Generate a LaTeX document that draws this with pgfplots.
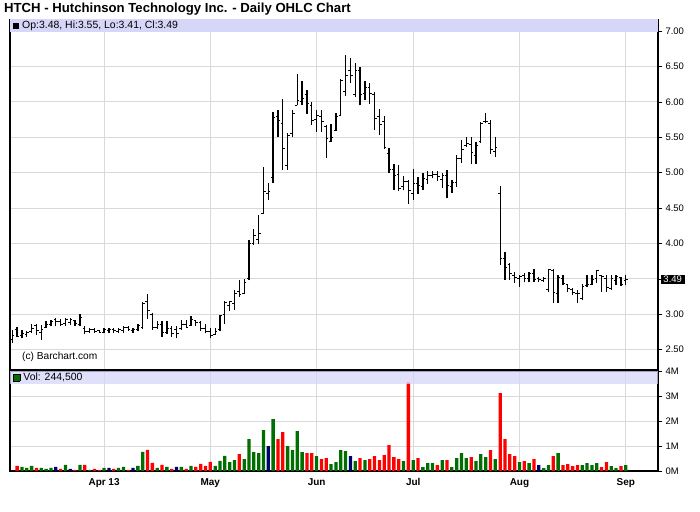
\documentclass[border=0pt]{standalone}
\usepackage{pgfplots}
\pgfplotsset{compat=1.18}
\usepackage{pgfplotstable}
\usepackage{fontspec}
\setmainfont{Liberation Sans}

\definecolor{vgreen}{RGB}{0,110,0}
\definecolor{vred}{RGB}{255,0,0}
\definecolor{vnavy}{RGB}{0,0,110}
\definecolor{band}{RGB}{214,214,248}
\definecolor{gridc}{RGB}{217,217,217}

% daily bars: index, open, high, low, close, volume (M), direction (0 up, 1 down, 2 flat)
\pgfplotstableread{
i O H L C V d
0 2.65 2.78 2.59 2.70 0 1
1 2.78 2.82 2.68 2.69 0.21 1
2 2.70 2.78 2.66 2.73 0.17 0
3 2.72 2.76 2.68 2.75 0.13 0
4 2.76 2.87 2.73 2.80 0.21 0
5 2.84 2.87 2.71 2.77 0.13 1
6 2.75 2.85 2.64 2.79 0.13 0
7 2.82 2.90 2.80 2.86 0.09 0
8 2.86 2.92 2.83 2.90 0.13 0
9 2.93 2.95 2.83 2.90 0.17 2
10 2.90 2.93 2.83 2.86 0.09 1
11 2.87 2.95 2.84 2.92 0.25 0
12 2.88 2.95 2.85 2.92 0.09 2
13 2.91 2.92 2.84 2.87 0.05 1
14 2.86 3.00 2.83 2.95 0.25 0
15 2.80 2.83 2.72 2.76 0.25 1
16 2.76 2.81 2.74 2.78 0.05 0
17 2.79 2.81 2.73 2.76 0.09 1
18 2.77 2.78 2.74 2.75 0.05 1
19 2.75 2.81 2.73 2.78 0.13 0
20 2.77 2.80 2.74 2.78 0.13 2
21 2.79 2.80 2.74 2.77 0.09 1
22 2.76 2.81 2.74 2.79 0.13 0
23 2.77 2.83 2.74 2.81 0.17 0
24 2.81 2.84 2.76 2.78 0.05 1
25 2.77 2.80 2.74 2.78 0.13 2
26 2.78 2.87 2.77 2.84 0.21 0
27 2.82 3.18 2.79 3.15 0.77 0
28 3.18 3.28 2.94 3.05 0.85 1
29 3.00 3.02 2.78 2.82 0.33 1
30 2.82 2.90 2.79 2.86 0.13 0
31 2.85 2.90 2.68 2.75 0.25 1
32 2.74 2.90 2.72 2.80 0.17 0
33 2.80 2.83 2.68 2.73 0.09 1
34 2.78 2.83 2.66 2.73 0.17 2
35 2.80 2.92 2.78 2.85 0.17 0
36 2.86 2.92 2.80 2.82 0.09 1
37 2.84 2.97 2.83 2.92 0.21 0
38 2.91 2.92 2.83 2.88 0.17 1
39 2.88 2.91 2.76 2.80 0.29 1
40 2.80 2.87 2.73 2.76 0.21 1
41 2.76 2.80 2.66 2.70 0.37 1
42 2.71 2.80 2.71 2.76 0.21 0
43 2.78 2.99 2.77 2.98 0.41 0
44 3.00 3.19 2.87 3.17 0.61 0
45 3.12 3.19 3.04 3.18 0.36 0
46 3.15 3.34 3.06 3.30 0.44 0
47 3.32 3.48 3.25 3.28 0.68 1
48 3.30 3.50 3.28 3.45 0.48 0
49 3.50 4.05 3.48 4.00 1.28 0
50 4.00 4.21 3.98 4.12 0.76 0
51 4.05 4.40 4.00 4.14 0.72 0
52 4.42 5.08 4.42 4.74 1.64 0
53 4.70 4.86 4.62 4.74 1.00 2
54 4.93 5.86 4.85 5.78 2.08 0
55 5.80 5.88 5.50 5.74 1.28 1
56 5.70 6.04 5.04 5.34 1.56 1
57 5.10 5.56 5.04 5.53 1.00 0
58 5.55 5.88 5.50 5.83 0.84 0
59 5.95 6.39 5.95 6.02 1.60 0
60 6.00 6.29 5.95 6.05 0.76 0
61 6.10 6.17 5.83 5.98 0.72 1
62 5.95 6.00 5.68 5.74 0.72 1
63 5.75 5.88 5.58 5.81 0.60 0
64 5.80 5.88 5.58 5.72 0.48 1
65 5.65 5.67 5.21 5.48 0.52 1
66 5.44 5.69 5.44 5.50 0.28 0
67 5.60 5.84 5.59 5.80 0.36 0
68 5.81 6.33 5.81 6.30 0.84 0
69 6.15 6.66 6.09 6.38 0.80 0
70 6.45 6.62 6.26 6.38 0.60 2
71 6.10 6.55 6.07 6.45 0.40 0
72 6.45 6.50 5.95 6.10 0.52 1
73 6.12 6.29 6.02 6.21 0.44 0
74 6.20 6.27 5.97 6.12 0.48 1
75 6.10 6.14 5.60 5.77 0.60 1
76 5.80 5.90 5.53 5.68 0.44 1
77 5.73 5.80 5.34 5.36 0.64 1
78 5.27 5.35 4.99 5.05 1.04 1
79 5.05 5.12 4.76 4.96 0.56 1
80 4.98 5.11 4.74 4.78 0.48 1
81 4.80 4.95 4.75 4.88 0.40 0
82 4.88 4.89 4.56 4.75 3.55 1
83 4.70 5.05 4.62 4.85 0.44 0
84 4.85 4.94 4.70 4.82 0.52 1
85 4.80 5.00 4.76 4.92 0.16 0
86 4.90 5.03 4.84 4.96 0.32 0
87 4.96 5.03 4.92 4.98 0.32 0
88 4.98 5.02 4.88 4.94 0.24 1
89 4.90 4.99 4.78 4.96 0.44 0
90 4.96 5.04 4.64 4.82 0.44 1
91 4.80 4.90 4.71 4.86 0.16 0
92 4.86 5.25 4.80 5.20 0.52 0
93 5.20 5.46 5.14 5.33 0.72 0
94 5.38 5.51 5.36 5.41 0.52 0
95 5.40 5.50 5.12 5.29 0.56 1
96 5.25 5.44 5.12 5.39 0.40 0
97 5.44 5.72 5.42 5.70 0.68 0
98 5.72 5.85 5.70 5.73 0.56 0
99 5.70 5.75 5.26 5.33 0.84 1
100 5.30 5.50 5.22 5.36 0.48 0
101 4.71 4.81 3.70 3.79 3.12 1
102 3.79 3.88 3.49 3.66 1.28 1
103 3.70 3.72 3.49 3.58 0.68 1
104 3.55 3.60 3.44 3.52 0.60 1
105 3.50 3.56 3.39 3.53 0.36 0
106 3.55 3.59 3.45 3.51 0.40 1
107 3.50 3.60 3.45 3.57 0.32 0
108 3.58 3.64 3.45 3.49 0.48 1
109 3.50 3.53 3.45 3.49 0.24 2
110 3.48 3.53 3.46 3.51 0.12 0
111 3.35 3.64 3.31 3.63 0.24 0
112 3.62 3.64 3.16 3.31 0.60 1
113 3.30 3.56 3.16 3.52 0.72 0
114 3.50 3.56 3.41 3.44 0.24 1
115 3.42 3.43 3.31 3.37 0.28 1
116 3.35 3.37 3.27 3.31 0.20 1
117 3.30 3.34 3.16 3.29 0.24 1
118 3.22 3.43 3.20 3.39 0.24 0
119 3.40 3.56 3.39 3.42 0.32 0
120 3.42 3.56 3.41 3.49 0.24 0
121 3.50 3.63 3.44 3.62 0.32 0
122 3.55 3.56 3.32 3.53 0.16 1
123 3.50 3.55 3.32 3.38 0.36 1
124 3.36 3.56 3.34 3.51 0.20 0
125 3.48 3.56 3.41 3.53 0.12 0
126 3.52 3.53 3.40 3.42 0.20 1
127 3.48 3.55 3.41 3.49 0.24 0
}\ohlc

\pgfplotsset{
  chartbase/.style={
    scale only axis, width=648bp,
    xmin=-0.476, xmax=133.68,
    axis line style={line width=1.2bp},
    grid=major, grid style={gridc, line width=0.9bp},
    xtick={19,41,63,83,105,127},
    xtick style={draw=none},
    ytick pos=right, yticklabel pos=right,
    tick align=outside, major tick length=4bp,
    ytick style={black, line width=0.8bp},
    tick label style={font=\fontsize{9.5}{11}\selectfont},
  },
  volbar/.style={ybar, bar width=0.68, bar shift=0pt, draw=none, fill=#1},
  ohlcpart/.style={draw=none, mark=none, forget plot},
}

\begin{document}
\begin{tikzpicture}
\path[use as bounding box] (0,0) rectangle (700bp,512bp);

\node[anchor=base west, inner sep=0pt, font=\bfseries\fontsize{13.2}{15}\selectfont]
  at (4bp,499bp) {HTCH - Hutchinson Technology Inc. - Daily OHLC Chart};

% price panel
\begin{axis}[chartbase, name=price, at={(10bp,142bp)}, anchor=south west,
  height=350.5bp, ymin=2.2133, ymax=7.164,
  ytick={2.5,3.0,3.5,4.0,4.5,5.0,5.5,6.0,6.5,7.0},
  yticklabels={2.50,3.00,,4.00,4.50,5.00,5.50,6.00,6.50,7.00},
  xticklabels={}]
  \fill[band] (rel axis cs:0,1) rectangle ([yshift=-12.5bp]rel axis cs:1,1);
  % high-low line
  \addplot[ohlcpart, error bars/.cd, y dir=plus, y explicit, error mark=none,
    error bar style={draw=black, solid, line width=1.3bp}]
    table[x=i, y=L, y error expr=\thisrow{H}-\thisrow{L}] {\ohlc};
  % open tick
  \addplot[ohlcpart, error bars/.cd, x dir=minus, x fixed=0.45, error mark=none,
    error bar style={draw=black, solid, line width=1bp}]
    table[x=i, y=O] {\ohlc};
  % close tick
  \addplot[ohlcpart, error bars/.cd, x dir=plus, x fixed=0.45, error mark=none,
    error bar style={draw=black, solid, line width=1bp}]
    table[x=i, y=C] {\ohlc};
  \node[anchor=west, inner sep=0pt, font=\fontsize{10.5}{12}\selectfont]
    at ([xshift=3bp,yshift=-6.5bp]rel axis cs:0,1) {\rule{6bp}{6bp}\hspace{3bp}Op:3.48, Hi:3.55, Lo:3.41, Cl:3.49};
  \node[anchor=west, inner sep=0pt, font=\fontsize{10.2}{12}\selectfont]
    at ([xshift=12bp,yshift=13.5bp]rel axis cs:0,0) {(c) Barchart.com};
  \coordinate (last) at (axis cs:133.68,3.49);
\end{axis}

% volume panel
\begin{axis}[chartbase, name=vol, at={(10bp,41bp)}, anchor=south west,
  height=100bp, ymin=0, ymax=4,
  ytick={0,1,2,3,4}, yticklabels={0M,1M,2M,3M,4M},
  xticklabels={Apr 13,May,Jun,Jul,Aug,Sep},
  xticklabel style={font=\bfseries\fontsize{10}{12}\selectfont}]
  \addplot[volbar=vgreen, restrict expr to domain={\thisrow{d}}{-0.5:0.5}] table[x=i, y=V] {\ohlc};
  \addplot[volbar=vred, restrict expr to domain={\thisrow{d}}{0.5:1.5}] table[x=i, y=V] {\ohlc};
  \addplot[volbar=vnavy, restrict expr to domain={\thisrow{d}}{1.5:2.5}] table[x=i, y=V] {\ohlc};
  \fill[band, fill opacity=0.75] (rel axis cs:0,1) rectangle ([yshift=-12.5bp]rel axis cs:1,1);
  \node[anchor=west, inner sep=0pt, font=\fontsize{10.5}{12}\selectfont]
    at ([xshift=3bp,yshift=-6.5bp]rel axis cs:0,1)
    {\fboxsep=0pt\fboxrule=0.6bp\fbox{\textcolor{vgreen}{\rule{6bp}{6bp}}}\hspace{3bp}Vol: 244,500};
\end{axis}

\node[anchor=west, fill=black, text=white, inner sep=1.2bp, minimum width=24bp,
  font=\fontsize{9.5}{11}\selectfont] at ([xshift=2.5bp]last) {3.49};
\end{tikzpicture}
\end{document}
